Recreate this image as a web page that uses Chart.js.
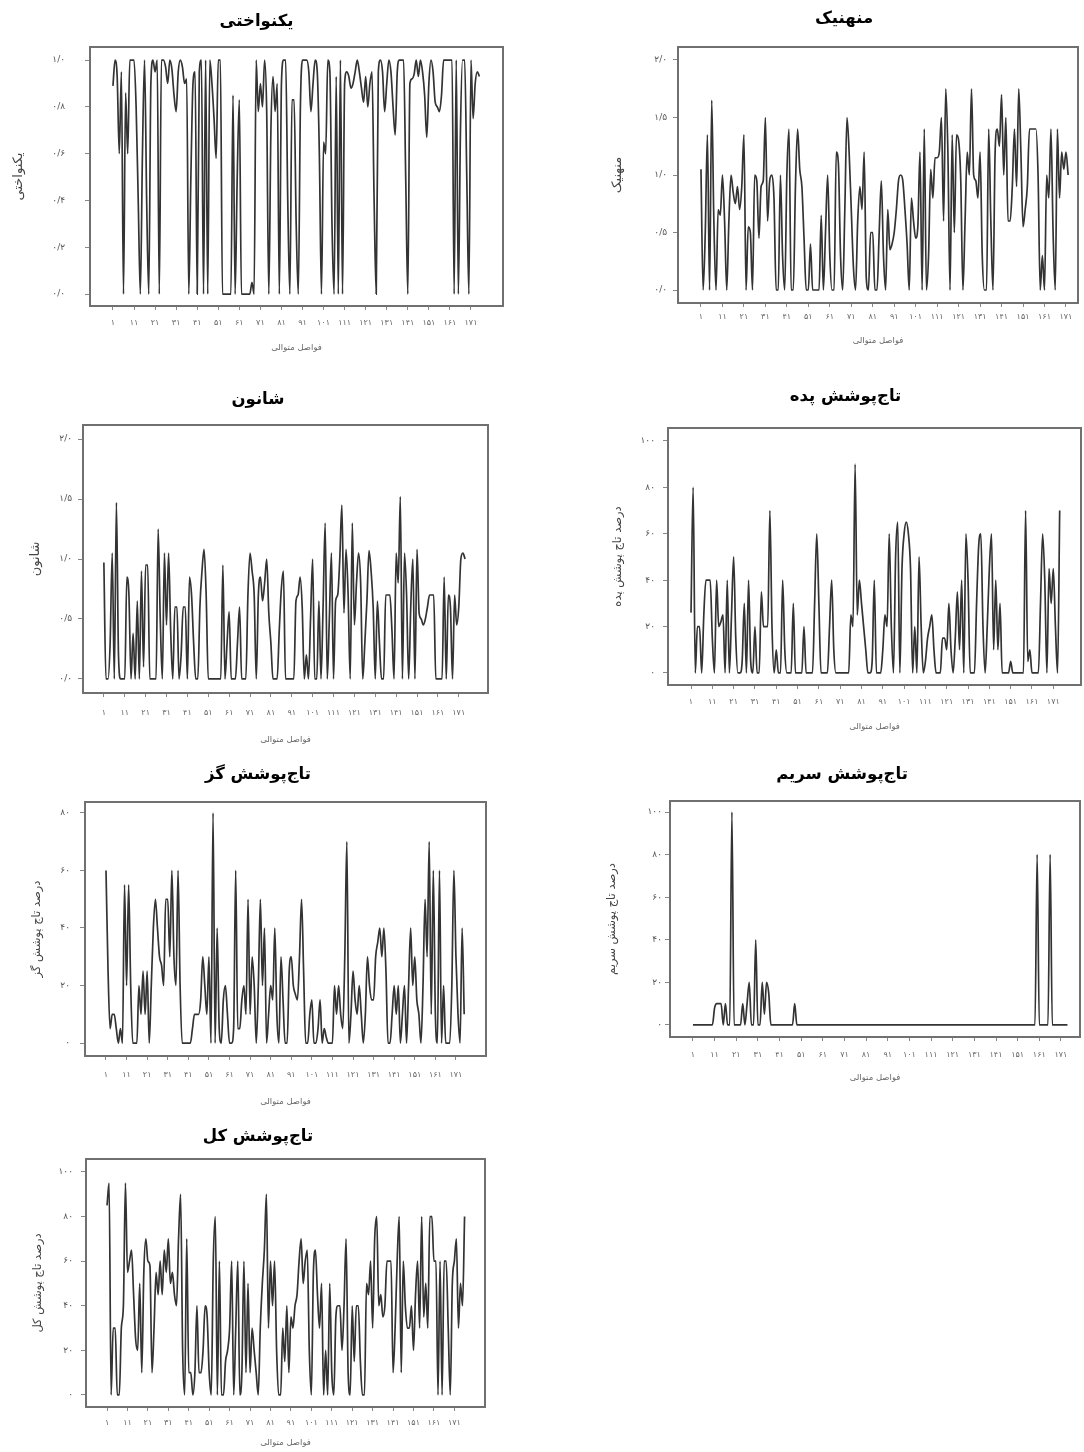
<!DOCTYPE html>
<html lang="fa">
<head>
    <meta charset="UTF-8">
    <title>نمودارهای فواصل متوالی</title>
    <script src="https://cdn.jsdelivr.net/npm/chart.js"></script>
    <style>
        html, body {
            margin: 0;
            padding: 0;
            background: #fff;
            overflow: hidden;
        }
        body {
            width: 1084px;
            height: 1452px;
            position: relative;
        }
        .panel {
            position: absolute;
        }
    </style>
</head>
<body>

    <div class="panel" id="p1"><canvas></canvas></div>
    <div class="panel" id="p2"><canvas></canvas></div>
    <div class="panel" id="p3"><canvas></canvas></div>
    <div class="panel" id="p4"><canvas></canvas></div>
    <div class="panel" id="p5"><canvas></canvas></div>
    <div class="panel" id="p6"><canvas></canvas></div>
    <div class="panel" id="p7"><canvas></canvas></div>

    <script>
        // برچسب‌های محور افقی (فواصل متوالی)
        const xTicks = [1, 11, 21, 31, 41, 51, 61, 71, 81, 91, 101, 111, 121, 131, 141, 151, 161, 171];
        const xTitle = 'فواصل متوالی';

        // برچسب‌های محور عمودی
        const yTicksUniform = [0, 0.2, 0.4, 0.6, 0.8, 1.0];
        const yTicksIndex = [0, 0.5, 1.0, 1.5, 2.0];
        const yTicksCover = [0, 20, 40, 60, 80, 100];
        const yTicksGaz = [0, 20, 40, 60, 80];

        // یکنواختی
        const yeknavakhti = [
            0.89, 1.0, 0.93, 0.6, 0.95, 0.0, 0.86, 0.6, 1.0, 1.0,
            1.0, 0.8, 0.4, 0.0, 0.6, 1.0, 0.4, 0.0, 0.9, 1.0,
            0.95, 1.0, 0.0, 1.0, 1.0, 0.97, 0.9, 1.0, 0.96, 0.85,
            0.78, 0.95, 1.0, 0.97, 0.9, 0.92, 0.0, 0.5, 0.9, 0.95,
            0.0, 0.95, 1.0, 0.0, 1.0, 0.0, 1.0, 0.9, 0.75, 0.58,
            1.0, 1.0, 0.0, 0.0, 0.0, 0.0, 0.0, 0.85, 0.0, 0.5,
            0.83, 0.0, 0.0, 0.0, 0.0, 0.0, 0.05, 0.0, 1.0, 0.78,
            0.9, 0.8, 1.0, 0.78, 0.0, 0.7, 0.93, 0.78, 0.9, 0.0,
            0.9, 1.0, 1.0, 0.4, 0.0, 0.83, 0.83, 0.3, 0.0, 0.8,
            1.0, 1.0, 1.0, 0.95, 0.78, 0.9, 1.0, 0.95, 0.6, 0.0,
            0.65, 0.6, 1.0, 0.95, 0.3, 0.0, 0.93, 0.0, 1.0, 0.0,
            0.9, 0.95, 0.93, 0.88, 0.9, 0.95, 1.0, 0.95, 0.88, 0.82,
            0.93, 0.8, 0.9, 0.95, 0.4, 0.0, 0.95, 1.0, 0.95, 0.78,
            0.9, 1.0, 0.95, 0.8, 0.68, 0.95, 1.0, 1.0, 1.0, 0.5,
            0.0, 0.9, 0.92, 0.94, 1.0, 0.93, 1.0, 0.95, 0.85, 0.67,
            0.9, 1.0, 0.95, 0.82, 0.8, 0.78, 0.85, 1.0, 1.0, 1.0,
            1.0, 1.0, 0.0, 1.0, 0.0, 0.7, 1.0, 1.0, 0.5, 0.0,
            1.0, 0.75, 0.9, 0.95, 0.93
        ];

        // منهنیک
        const menhinick = [
            1.05, 0.0, 0.5, 1.35, 0.0, 1.65, 0.6, 0.0, 0.7, 0.65,
            1.0, 0.6, 0.0, 0.6, 1.0, 0.85, 0.75, 0.9, 0.7, 0.9,
            1.35, 0.0, 0.55, 0.5, 0.0, 1.0, 0.95, 0.45, 0.9, 0.95,
            1.5, 0.6, 0.95, 1.0, 0.8, 0.0, 0.0, 1.0, 0.3, 0.0,
            1.0, 1.4, 0.0, 0.0, 0.9, 1.4, 1.05, 0.9, 0.45, 0.0,
            0.0, 0.4, 0.0, 0.0, 0.0, 0.0, 0.65, 0.0, 0.5, 1.0,
            0.3, 0.0, 0.0, 1.2, 1.1, 0.3, 0.0, 0.7, 1.5, 1.2,
            0.7, 0.2, 0.0, 0.6, 0.9, 0.7, 1.2, 0.1, 0.0, 0.5,
            0.5, 0.0, 0.0, 0.5, 0.95, 0.3, 0.0, 0.7, 0.35, 0.4,
            0.5, 0.7, 0.95, 1.0, 0.95, 0.7, 0.4, 0.0, 0.8, 0.6,
            0.45, 0.55, 1.2, 0.0, 1.4, 0.0, 0.3, 1.05, 0.8, 1.15,
            1.15, 1.2, 1.5, 0.6, 1.75, 1.2, 0.0, 1.35, 0.5, 1.35,
            1.3, 0.95, 0.0, 0.6, 1.2, 1.0, 1.75, 1.0, 0.95, 0.8,
            1.2, 0.3, 0.0, 0.0, 1.4, 0.6, 0.0, 1.2, 1.4, 1.25,
            1.7, 1.0, 1.5, 0.6, 0.6, 0.9, 1.4, 0.9, 1.75, 1.2,
            0.55, 0.7, 0.9, 1.4, 1.4, 1.4, 1.4, 1.0, 0.0, 0.3,
            0.0, 1.0, 0.8, 1.4, 0.5, 0.0, 1.4, 0.8, 1.2, 1.05,
            1.2, 1.0
        ];

        // شانون
        const shannon = [
            0.97, 0.0, 0.0, 0.3, 1.05, 0.0, 1.47, 0.2, 0.0, 0.0,
            0.0, 0.85, 0.7, 0.0, 0.38, 0.0, 0.65, 0.0, 0.9, 0.1,
            0.95, 0.95, 0.0, 0.0, 0.0, 0.0, 1.25, 0.5, 0.0, 1.05,
            0.45, 1.05, 0.4, 0.0, 0.6, 0.6, 0.0, 0.2, 0.6, 0.6,
            0.0, 0.85, 0.7, 0.3, 0.0, 0.0, 0.6, 0.9, 1.08, 0.7,
            0.0, 0.0, 0.0, 0.0, 0.0, 0.0, 0.0, 0.95, 0.0, 0.3,
            0.56, 0.0, 0.0, 0.0, 0.3, 0.6, 0.0, 0.0, 0.0, 0.7,
            1.05, 0.9, 0.7, 0.0, 0.7, 0.85, 0.65, 0.8, 1.0, 0.55,
            0.3, 0.0, 0.0, 0.0, 0.4, 0.75, 0.9, 0.0, 0.0, 0.0,
            0.0, 0.0, 0.65, 0.7, 0.85, 0.6, 0.0, 0.2, 0.0, 0.5,
            1.0, 0.0, 0.0, 0.65, 0.0, 0.6, 1.3, 0.0, 0.5, 1.05,
            0.0, 0.65, 0.7, 1.0, 1.45, 0.55, 1.08, 0.7, 0.0, 1.3,
            0.45, 0.8, 1.05, 0.8, 0.0, 0.3, 0.65, 1.07, 0.9, 0.6,
            0.0, 0.65, 0.3, 0.0, 0.0, 0.7, 0.7, 0.7, 0.4, 0.0,
            1.05, 0.8, 1.52, 0.0, 1.05, 0.7, 0.0, 0.6, 1.0, 0.0,
            1.08, 0.55, 0.5, 0.45, 0.5, 0.6, 0.7, 0.7, 0.7, 0.0,
            0.0, 0.0, 0.0, 0.85, 0.0, 0.7, 0.6, 0.0, 0.7, 0.45,
            0.6, 1.0, 1.05, 1.0
        ];

        // تاج‌پوشش پده
        const padeh = [
            26, 80, 0, 20, 20, 0, 25, 40, 40, 40,
            15, 0, 40, 20, 22, 25, 0, 40, 0, 25,
            50, 15, 0, 0, 5, 30, 0, 40, 5, 0,
            20, 0, 0, 35, 20, 20, 20, 70, 20, 0,
            10, 0, 0, 40, 10, 0, 0, 0, 30, 0,
            0, 0, 0, 20, 0, 0, 0, 0, 30, 60,
            30, 0, 0, 0, 0, 20, 40, 10, 0, 0,
            0, 0, 0, 0, 0, 25, 20, 90, 25, 40,
            30, 20, 10, 0, 0, 5, 40, 0, 0, 0,
            10, 25, 20, 60, 20, 0, 50, 65, 0, 45,
            60, 65, 60, 45, 0, 20, 0, 50, 20, 0,
            5, 15, 20, 25, 10, 0, 0, 0, 15, 15,
            10, 30, 10, 0, 15, 35, 10, 40, 0, 60,
            40, 0, 0, 0, 30, 55, 60, 20, 0, 20,
            45, 60, 10, 40, 10, 30, 0, 0, 0, 0,
            5, 0, 0, 0, 0, 0, 0, 70, 5, 10,
            0, 0, 0, 0, 30, 60, 40, 0, 45, 30,
            45, 20, 0, 70
        ];

        // تاج‌پوشش گز
        const gaz = [
            60, 25, 5, 10, 10, 5, 0, 5, 0, 55,
            20, 55, 20, 0, 0, 0, 20, 10, 25, 10,
            25, 0, 20, 40, 50, 40, 30, 27, 20, 50,
            50, 30, 60, 30, 20, 60, 20, 0, 0, 0,
            0, 0, 5, 10, 10, 10, 15, 30, 20, 10,
            30, 0, 80, 0, 40, 5, 0, 15, 20, 10,
            0, 0, 5, 60, 5, 5, 15, 20, 10, 50,
            10, 30, 20, 0, 20, 50, 20, 40, 0, 10,
            20, 15, 40, 10, 0, 30, 15, 0, 0, 25,
            30, 20, 17, 15, 30, 50, 25, 0, 0, 10,
            15, 0, 0, 5, 15, 0, 5, 2, 0, 0,
            0, 20, 10, 20, 10, 5, 30, 70, 0, 10,
            25, 15, 10, 20, 10, 0, 10, 30, 20, 15,
            15, 30, 35, 40, 30, 40, 25, 0, 0, 10,
            20, 10, 20, 0, 10, 20, 0, 20, 40, 20,
            30, 15, 10, 0, 20, 50, 30, 70, 10, 60,
            10, 0, 60, 0, 20, 0, 0, 0, 20, 60,
            30, 10, 0, 40, 10
        ];

        // تاج‌پوشش سریم
        const sarim = [
            0, 0, 0, 0, 0, 0, 0, 0, 0, 0,
            8, 10, 10, 10, 0, 10, 0, 0, 100, 0,
            0, 0, 0, 10, 0, 10, 20, 0, 0, 40,
            0, 0, 20, 5, 20, 15, 0, 0, 0, 0,
            0, 0, 0, 0, 0, 0, 0, 10, 0, 0,
            0, 0, 0, 0, 0, 0, 0, 0, 0, 0,
            0, 0, 0, 0, 0, 0, 0, 0, 0, 0,
            0, 0, 0, 0, 0, 0, 0, 0, 0, 0,
            0, 0, 0, 0, 0, 0, 0, 0, 0, 0,
            0, 0, 0, 0, 0, 0, 0, 0, 0, 0,
            0, 0, 0, 0, 0, 0, 0, 0, 0, 0,
            0, 0, 0, 0, 0, 0, 0, 0, 0, 0,
            0, 0, 0, 0, 0, 0, 0, 0, 0, 0,
            0, 0, 0, 0, 0, 0, 0, 0, 0, 0,
            0, 0, 0, 0, 0, 0, 0, 0, 0, 0,
            0, 0, 0, 0, 0, 0, 0, 0, 0, 80,
            0, 0, 0, 0, 0, 80, 0, 0, 0, 0,
            0, 0, 0, 0
        ];

        // تاج‌پوشش کل
        const kol = [
            85, 95, 0, 30, 30, 0, 0, 30, 40, 95,
            55, 60, 65, 45, 25, 20, 50, 10, 55, 70,
            60, 58, 10, 30, 55, 45, 60, 45, 65, 55,
            70, 50, 55, 45, 40, 70, 90, 20, 0, 70,
            10, 10, 0, 10, 40, 10, 10, 20, 40, 35,
            10, 0, 60, 80, 0, 60, 0, 0, 15, 20,
            30, 60, 0, 30, 60, 0, 10, 60, 10, 50,
            10, 30, 20, 10, 0, 30, 50, 65, 90, 30,
            60, 40, 60, 20, 0, 0, 30, 15, 40, 10,
            35, 30, 40, 45, 60, 70, 50, 60, 65, 20,
            0, 55, 65, 45, 30, 50, 0, 20, 0, 50,
            10, 0, 35, 40, 40, 20, 40, 70, 10, 0,
            40, 15, 40, 40, 15, 0, 0, 50, 45, 60,
            30, 70, 80, 40, 45, 35, 40, 60, 60, 60,
            10, 30, 60, 80, 10, 60, 40, 30, 30, 40,
            20, 45, 60, 30, 80, 35, 50, 30, 80, 80,
            60, 60, 0, 60, 0, 60, 60, 30, 0, 50,
            60, 70, 30, 50, 40, 80
        ];

        // ارقام فارسی با ممیز «/»
        const faDigits = '۰۱۲۳۴۵۶۷۸۹';
        function fa(v, dec) {
            return Number(v).toFixed(dec).replace('.', '/').replace(/[0-9]/g, d => faDigits[d]);
        }

        const fontFa = 'DejaVu Sans';

        // کادر دور ناحیه نمودار
        const boxPlugin = {
            id: 'boxBorder',
            afterDraw(chart) {
                const { ctx, chartArea: a } = chart;
                ctx.save();
                ctx.strokeStyle = '#707070';
                ctx.lineWidth = 2;
                ctx.strokeRect(a.left, a.top, a.right - a.left, a.bottom - a.top);
                ctx.restore();
            }
        };

        function drawPanel(p) {
            const wrap = document.getElementById(p.id);
            const bottom = p.xTitleY + 9;
            const width = p.right - p.left;
            const height = bottom - p.top;
            wrap.style.left = p.left + 'px';
            wrap.style.top = p.top + 'px';
            wrap.style.width = width + 'px';
            wrap.style.height = height + 'px';

            const titleLh = 16.5 * 1.2;
            const titlePadTop = p.titleC - p.top - titleLh / 2;
            const titlePadBottom = p.box[1] - p.top - titlePadTop - titleLh;
            const yTitleLh = p.yTitleSize * 1.2;

            new Chart(wrap.querySelector('canvas'), {
                type: 'line',
                data: {
                    labels: p.values.map((v, i) => i + 1),
                    datasets: [{
                        data: p.values,
                        borderColor: '#333',
                        borderWidth: 1.7,
                        pointRadius: 0,
                        cubicInterpolationMode: 'monotone',
                        fill: false
                    }]
                },
                options: {
                    responsive: true,
                    maintainAspectRatio: false,
                    animation: false,
                    layout: {
                        padding: { left: 0, top: 0, bottom: 0, right: p.right - p.box[2] }
                    },
                    plugins: {
                        legend: { display: false },
                        tooltip: { enabled: false },
                        title: {
                            display: true,
                            text: p.title,
                            color: '#000',
                            font: { family: fontFa, size: 16.5, weight: 'bold' },
                            padding: { top: titlePadTop, bottom: titlePadBottom }
                        }
                    },
                    scales: {
                        x: {
                            type: 'linear',
                            min: p.xMin,
                            max: p.xMax,
                            afterFit: s => { s.height = bottom - p.box[3]; },
                            afterBuildTicks: s => { s.ticks = xTicks.map(v => ({ value: v })); },
                            ticks: {
                                autoSkip: false,
                                maxRotation: 0,
                                padding: p.xLabelY - p.box[3] - 4 - 4.8,
                                color: '#666',
                                font: { family: fontFa, size: 8 },
                                callback: v => fa(v, 0)
                            },
                            grid: { drawOnChartArea: false, tickLength: 4, color: '#888' },
                            border: { display: false },
                            title: {
                                display: true,
                                text: xTitle,
                                color: '#666',
                                font: { family: fontFa, size: 8.5 },
                                padding: { top: 0, bottom: 4 }
                            }
                        },
                        y: {
                            min: p.yMin,
                            max: p.yMax,
                            afterFit: s => { s.width = p.box[0] - p.left; },
                            afterBuildTicks: s => { s.ticks = p.yTicks.map(v => ({ value: v })); },
                            ticks: {
                                padding: p.yGap - 5,
                                color: '#555',
                                font: { family: fontFa, size: 9 },
                                callback: v => fa(v, p.dec)
                            },
                            grid: { drawOnChartArea: false, tickLength: 5, color: '#888' },
                            border: { display: false },
                            title: {
                                display: true,
                                text: p.yTitle,
                                color: '#444',
                                font: { family: fontFa, size: p.yTitleSize },
                                padding: { top: Math.max(0, p.yTitleX - p.left - yTitleLh / 2), bottom: 0 }
                            }
                        }
                    }
                },
                plugins: [boxPlugin]
            });
        }

        drawPanel({ id: 'p1', title: 'یکنواختی', yTitle: 'یکنواختی', values: yeknavakhti,
            left: 10, right: 509, top: 2, titleC: 22, box: [90, 47, 503, 306],
            xLabelY: 323, xTitleY: 348, yTitleX: 19, yGap: 25, yTitleSize: 13,
            xMin: -9.9, xMax: 186.2, yMin: -0.051, yMax: 1.056, yTicks: yTicksUniform, dec: 1 });

        drawPanel({ id: 'p2', title: 'منهنیک', yTitle: 'منهنیک', values: menhinick,
            left: 610, right: 1084, top: 0, titleC: 19, box: [678, 47, 1078, 303],
            xLabelY: 317, xTitleY: 341, yTitleX: 617, yGap: 11, yTitleSize: 13,
            xMin: -9.7, xMax: 176.6, yMin: -0.113, yMax: 2.113, yTicks: yTicksIndex, dec: 1 });

        drawPanel({ id: 'p3', title: 'شانون', yTitle: 'شانون', values: shannon,
            left: 28, right: 494, top: 380, titleC: 400, box: [83, 425, 488, 693],
            xLabelY: 713, xTitleY: 740, yTitleX: 35, yGap: 11, yTitleSize: 13,
            xMin: -9, xMax: 185, yMin: -0.117, yMax: 2.117, yTicks: yTicksIndex, dec: 1 });

        drawPanel({ id: 'p4', title: 'تاج‌پوشش پده', yTitle: 'درصد تاج پوشش پده', values: padeh,
            left: 610, right: 1087, top: 377, titleC: 397, box: [668, 428, 1081, 685],
            xLabelY: 702, xTitleY: 727, yTitleX: 618, yGap: 13, yTitleSize: 11.5,
            xMin: -9.8, xMax: 184, yMin: -5.2, yMax: 105.6, yTicks: yTicksCover, dec: 0 });

        drawPanel({ id: 'p5', title: 'تاج‌پوشش گز', yTitle: 'درصد تاج پوشش گز', values: gaz,
            left: 30, right: 492, top: 755, titleC: 775, box: [85, 802, 486, 1056],
            xLabelY: 1075, xTitleY: 1102, yTitleX: 36, yGap: 15, yTitleSize: 11.5,
            xMin: -9.2, xMax: 185.6, yMin: -4.5, yMax: 83.8, yTicks: yTicksGaz, dec: 0 });

        drawPanel({ id: 'p6', title: 'تاج‌پوشش سریم', yTitle: 'درصد تاج پوشش سریم', values: sarim,
            left: 604, right: 1086, top: 755, titleC: 775, box: [670, 801, 1080, 1037],
            xLabelY: 1055, xTitleY: 1078, yTitleX: 612, yGap: 8, yTitleSize: 11.5,
            xMin: -9.6, xMax: 179.8, yMin: -5.7, yMax: 105.2, yTicks: yTicksCover, dec: 0 });

        drawPanel({ id: 'p7', title: 'تاج‌پوشش کل', yTitle: 'درصد تاج پوشش کل', values: kol,
            left: 31, right: 491, top: 1117, titleC: 1137, box: [86, 1159, 485, 1407],
            xLabelY: 1423, xTitleY: 1443, yTitleX: 37, yGap: 13, yTitleSize: 11.5,
            xMin: -9.3, xMax: 186, yMin: -5.4, yMax: 105.8, yTicks: yTicksCover, dec: 0 });
    </script>

</body>
</html>
